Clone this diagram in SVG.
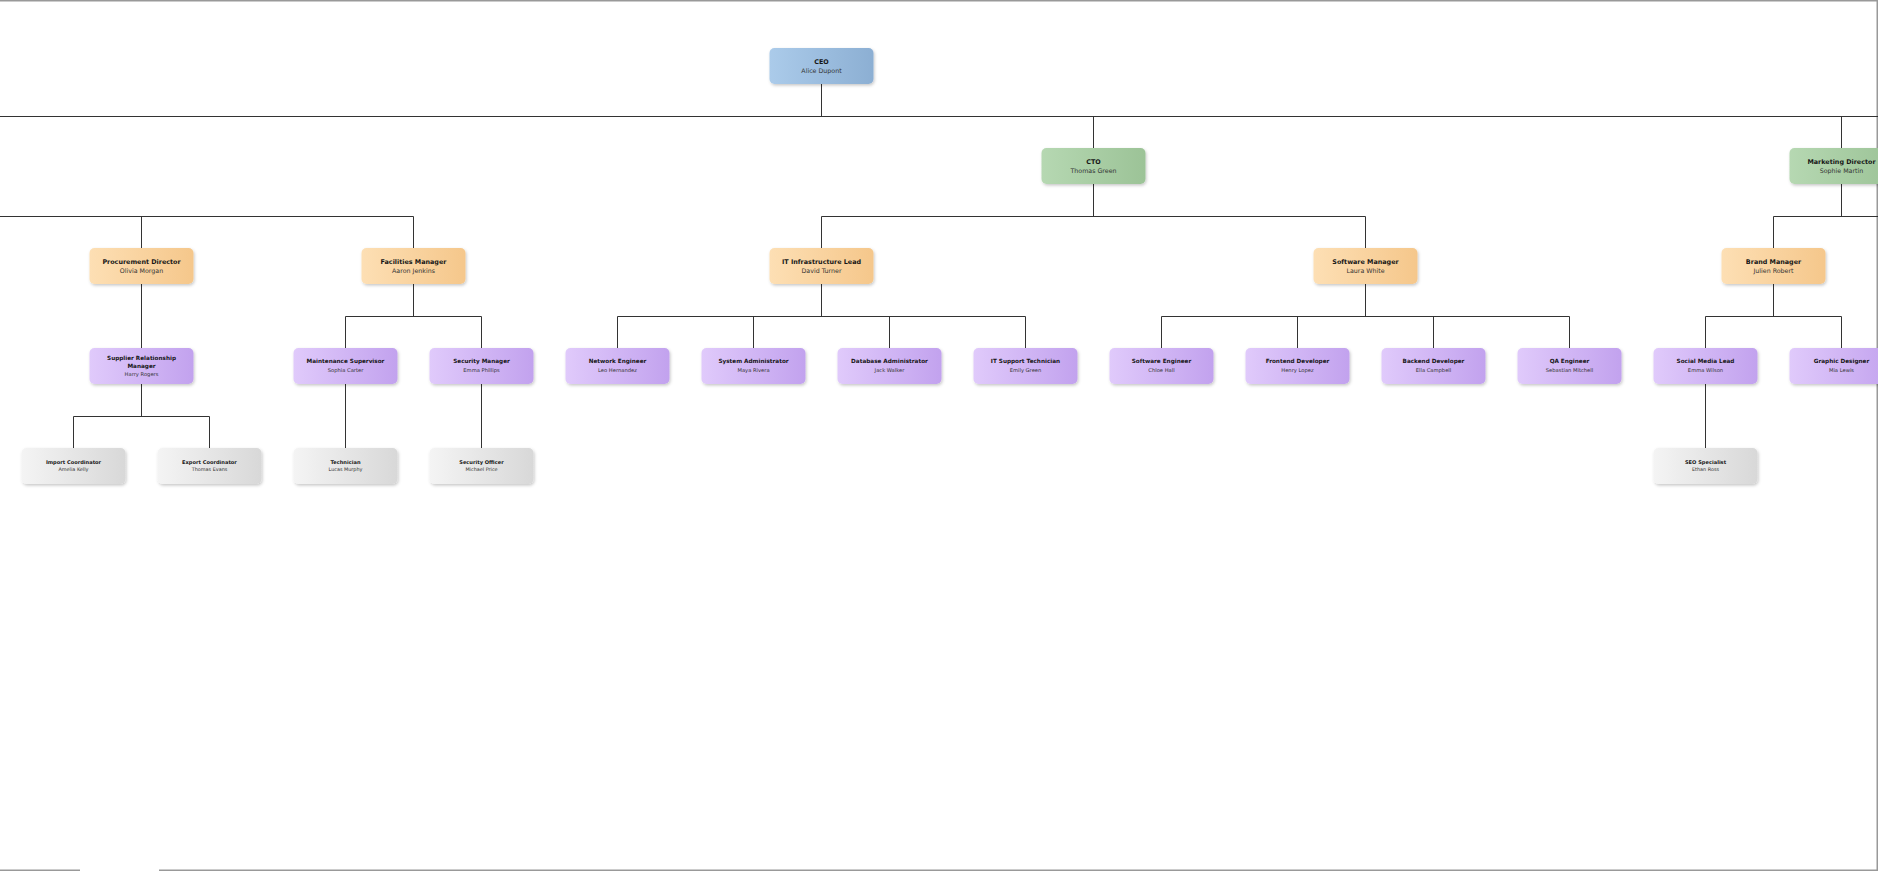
<svg xmlns="http://www.w3.org/2000/svg" width="1878" height="871" viewBox="0 0 1878 871">
<defs>
<linearGradient id="gBlue" x1="0" y1="0" x2="1" y2="0"><stop offset="0" stop-color="#abcbea"/><stop offset="1" stop-color="#8cafd3"/></linearGradient>
<linearGradient id="gGreen" x1="0" y1="0" x2="1" y2="0"><stop offset="0" stop-color="#b6d8b2"/><stop offset="1" stop-color="#9cc397"/></linearGradient>
<linearGradient id="gOrange" x1="0" y1="0" x2="1" y2="0"><stop offset="0" stop-color="#fddfb4"/><stop offset="1" stop-color="#f5c78b"/></linearGradient>
<linearGradient id="gPurple" x1="0" y1="0" x2="1" y2="0"><stop offset="0" stop-color="#e0cafb"/><stop offset="1" stop-color="#c2a2ee"/></linearGradient>
<linearGradient id="gGray" x1="0" y1="0" x2="1" y2="0"><stop offset="0" stop-color="#f4f4f4"/><stop offset="1" stop-color="#d8d8d8"/></linearGradient>
<filter id="sh" x="-20%" y="-30%" width="140%" height="170%"><feDropShadow dx="1" dy="1.5" stdDeviation="1.5" flood-color="#000" flood-opacity="0.22"/></filter>
</defs>
<style>
.box{filter:url(#sh)}
.t{font-family:"DejaVu Sans",Verdana,sans-serif;text-anchor:middle;fill:#161616;font-weight:bold}
.s{font-family:"DejaVu Sans",Verdana,sans-serif;text-anchor:middle;fill:#333}
.l1 .t,.l2 .t,.l3 .t{font-size:6.4px}
.l1 .s,.l2 .s,.l3 .s{font-size:6.3px}
.l4 .t{font-size:5.7px}
.l4 .s{font-size:5.2px}
.l5 .t{font-size:5.1px}
.l5 .s{font-size:4.9px}
.conn{stroke:#333;stroke-width:1;fill:none}
.frame{stroke:#999;stroke-width:1.5;fill:none}
</style>
<rect width="1878" height="871" fill="#fff"/>
<g id="frame">
<path class="frame" d="M0 0.75H1878M1877.25 0V871M0 870.25H80M159 870.25H1878"/>
</g>
<g id="connectors">
<path class="conn" d="M821.5 84V116.5M0 116.5H1878M1093.5 116.5V148M1841.5 116.5V148"/>
<path class="conn" d="M0 216.5H413.5M141.5 216.5V248M413.5 216.5V248"/>
<path class="conn" d="M1093.5 184V216.5M821.5 216.5H1365.5M821.5 216.5V248M1365.5 216.5V248"/>
<path class="conn" d="M1841.5 184V216.5M1773.5 216.5H1878M1773.5 216.5V248"/>
<path class="conn" d="M141.5 284V348"/>
<path class="conn" d="M413.5 284V316.5M345.5 316.5H481.5M345.5 316.5V348M481.5 316.5V348"/>
<path class="conn" d="M821.5 284V316.5M617.5 316.5H1025.5M617.5 316.5V348M753.5 316.5V348M889.5 316.5V348M1025.5 316.5V348"/>
<path class="conn" d="M1365.5 284V316.5M1161.5 316.5H1569.5M1161.5 316.5V348M1297.5 316.5V348M1433.5 316.5V348M1569.5 316.5V348"/>
<path class="conn" d="M1773.5 284V316.5M1705.5 316.5H1841.5M1705.5 316.5V348M1841.5 316.5V348"/>
<path class="conn" d="M141.5 384V416.5M73.5 416.5H209.5M73.5 416.5V448M209.5 416.5V448"/>
<path class="conn" d="M345.5 384V448M481.5 384V448M1705.5 384V448"/>
</g>
<g id="ceo" class="l1"><rect class="box" x="769.5" y="48" width="104" height="36" rx="5" fill="url(#gBlue)"/><text class="t" x="821.5" y="63.5">CEO</text><text class="s" x="821.5" y="72.5">Alice Dupont</text></g>
<g id="cto" class="l2"><rect class="box" x="1041.5" y="148" width="104" height="36" rx="5" fill="url(#gGreen)"/><text class="t" x="1093.5" y="163.5">CTO</text><text class="s" x="1093.5" y="172.5">Thomas Green</text></g>
<g id="marketing-director" class="l2"><rect class="box" x="1789.5" y="148" width="104" height="36" rx="5" fill="url(#gGreen)"/><text class="t" x="1841.5" y="163.5">Marketing Director</text><text class="s" x="1841.5" y="172.5">Sophie Martin</text></g>
<g id="procurement-director" class="l3"><rect class="box" x="89.5" y="248" width="104" height="36" rx="5" fill="url(#gOrange)"/><text class="t" x="141.5" y="263.5">Procurement Director</text><text class="s" x="141.5" y="272.5">Olivia Morgan</text></g>
<g id="facilities-manager" class="l3"><rect class="box" x="361.5" y="248" width="104" height="36" rx="5" fill="url(#gOrange)"/><text class="t" x="413.5" y="263.5">Facilities Manager</text><text class="s" x="413.5" y="272.5">Aaron Jenkins</text></g>
<g id="it-infrastructure-lead" class="l3"><rect class="box" x="769.5" y="248" width="104" height="36" rx="5" fill="url(#gOrange)"/><text class="t" x="821.5" y="263.5">IT Infrastructure Lead</text><text class="s" x="821.5" y="272.5">David Turner</text></g>
<g id="software-manager" class="l3"><rect class="box" x="1313.5" y="248" width="104" height="36" rx="5" fill="url(#gOrange)"/><text class="t" x="1365.5" y="263.5">Software Manager</text><text class="s" x="1365.5" y="272.5">Laura White</text></g>
<g id="brand-manager" class="l3"><rect class="box" x="1721.5" y="248" width="104" height="36" rx="5" fill="url(#gOrange)"/><text class="t" x="1773.5" y="263.5">Brand Manager</text><text class="s" x="1773.5" y="272.5">Julien Robert</text></g>
<g id="supplier-relationship-manager" class="l4"><rect class="box" x="89.5" y="348" width="104" height="36" rx="5" fill="url(#gPurple)"/><text class="t" x="141.5" y="360">Supplier Relationship</text><text class="t" x="141.5" y="367.5">Manager</text><text class="s" x="141.5" y="375.5">Harry Rogers</text></g>
<g id="maintenance-supervisor" class="l4"><rect class="box" x="293.5" y="348" width="104" height="36" rx="5" fill="url(#gPurple)"/><text class="t" x="345.5" y="363">Maintenance Supervisor</text><text class="s" x="345.5" y="371.5">Sophia Carter</text></g>
<g id="security-manager" class="l4"><rect class="box" x="429.5" y="348" width="104" height="36" rx="5" fill="url(#gPurple)"/><text class="t" x="481.5" y="363">Security Manager</text><text class="s" x="481.5" y="371.5">Emma Phillips</text></g>
<g id="network-engineer" class="l4"><rect class="box" x="565.5" y="348" width="104" height="36" rx="5" fill="url(#gPurple)"/><text class="t" x="617.5" y="363">Network Engineer</text><text class="s" x="617.5" y="371.5">Leo Hernandez</text></g>
<g id="system-administrator" class="l4"><rect class="box" x="701.5" y="348" width="104" height="36" rx="5" fill="url(#gPurple)"/><text class="t" x="753.5" y="363">System Administrator</text><text class="s" x="753.5" y="371.5">Maya Rivera</text></g>
<g id="database-administrator" class="l4"><rect class="box" x="837.5" y="348" width="104" height="36" rx="5" fill="url(#gPurple)"/><text class="t" x="889.5" y="363">Database Administrator</text><text class="s" x="889.5" y="371.5">Jack Walker</text></g>
<g id="it-support-technician" class="l4"><rect class="box" x="973.5" y="348" width="104" height="36" rx="5" fill="url(#gPurple)"/><text class="t" x="1025.5" y="363">IT Support Technician</text><text class="s" x="1025.5" y="371.5">Emily Green</text></g>
<g id="software-engineer" class="l4"><rect class="box" x="1109.5" y="348" width="104" height="36" rx="5" fill="url(#gPurple)"/><text class="t" x="1161.5" y="363">Software Engineer</text><text class="s" x="1161.5" y="371.5">Chloe Hall</text></g>
<g id="frontend-developer" class="l4"><rect class="box" x="1245.5" y="348" width="104" height="36" rx="5" fill="url(#gPurple)"/><text class="t" x="1297.5" y="363">Frontend Developer</text><text class="s" x="1297.5" y="371.5">Henry Lopez</text></g>
<g id="backend-developer" class="l4"><rect class="box" x="1381.5" y="348" width="104" height="36" rx="5" fill="url(#gPurple)"/><text class="t" x="1433.5" y="363">Backend Developer</text><text class="s" x="1433.5" y="371.5">Ella Campbell</text></g>
<g id="qa-engineer" class="l4"><rect class="box" x="1517.5" y="348" width="104" height="36" rx="5" fill="url(#gPurple)"/><text class="t" x="1569.5" y="363">QA Engineer</text><text class="s" x="1569.5" y="371.5">Sebastian Mitchell</text></g>
<g id="social-media-lead" class="l4"><rect class="box" x="1653.5" y="348" width="104" height="36" rx="5" fill="url(#gPurple)"/><text class="t" x="1705.5" y="363">Social Media Lead</text><text class="s" x="1705.5" y="371.5">Emma Wilson</text></g>
<g id="graphic-designer" class="l4"><rect class="box" x="1789.5" y="348" width="104" height="36" rx="5" fill="url(#gPurple)"/><text class="t" x="1841.5" y="363">Graphic Designer</text><text class="s" x="1841.5" y="371.5">Mia Lewis</text></g>
<g id="import-coordinator" class="l5"><rect class="box" x="21.5" y="448" width="104" height="36" rx="5" fill="url(#gGray)"/><text class="t" x="73.5" y="464">Import Coordinator</text><text class="s" x="73.5" y="470.5">Amelia Kelly</text></g>
<g id="export-coordinator" class="l5"><rect class="box" x="157.5" y="448" width="104" height="36" rx="5" fill="url(#gGray)"/><text class="t" x="209.5" y="464">Export Coordinator</text><text class="s" x="209.5" y="470.5">Thomas Evans</text></g>
<g id="technician" class="l5"><rect class="box" x="293.5" y="448" width="104" height="36" rx="5" fill="url(#gGray)"/><text class="t" x="345.5" y="464">Technician</text><text class="s" x="345.5" y="470.5">Lucas Murphy</text></g>
<g id="security-officer" class="l5"><rect class="box" x="429.5" y="448" width="104" height="36" rx="5" fill="url(#gGray)"/><text class="t" x="481.5" y="464">Security Officer</text><text class="s" x="481.5" y="470.5">Michael Price</text></g>
<g id="seo-specialist" class="l5"><rect class="box" x="1653.5" y="448" width="104" height="36" rx="5" fill="url(#gGray)"/><text class="t" x="1705.5" y="464">SEO Specialist</text><text class="s" x="1705.5" y="470.5">Ethan Ross</text></g>
</svg>
